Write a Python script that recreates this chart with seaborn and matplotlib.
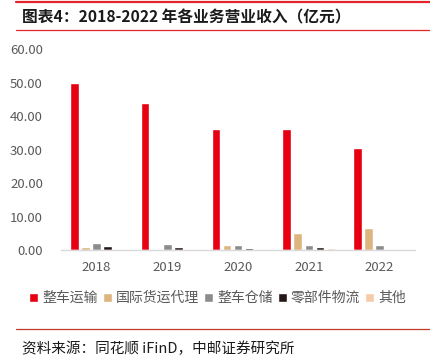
import matplotlib
matplotlib.use("Agg")
import matplotlib.pyplot as plt
import seaborn as sns
import pandas as pd
from matplotlib.lines import Line2D

years = ["2018", "2019", "2020", "2021", "2022"]
series_names = ["整车运输", "国际货运代理", "整车仓储", "零部件物流", "其他"]
vehicle = [49.8, 43.9, 36.2, 36.2, 30.4]
forwarding = [0.9, 0.4, 1.4, 5.1, 6.6]
warehousing = [2.0, 1.8, 1.6, 1.6, 1.6]
parts = [1.3, 0.9, 0.7, 1.0, 0.0]
other = [0.2, 0.0, 0.4, 0.5, 0.4]
yticks = [0, 10, 20, 30, 40, 50, 60]

colors = ["#E60012", "#DDB57E", "#8C8C8C", "#231815", "#F7CBAA"]

rows = []
for name, vals in zip(series_names, [vehicle, forwarding, warehousing, parts, other]):
    for y, v in zip(years, vals):
        rows.append({"year": y, "series": name, "value": v})
df = pd.DataFrame(rows)

sns.set_theme(style="white")
plt.rcParams["font.family"] = ["Noto Sans CJK SC", "DejaVu Sans"]

fig = plt.figure(figsize=(4.31, 3.64), dpi=100)
ax = fig.add_axes([0.1415, 0.313, 0.8215, 0.552])

sns.barplot(data=df, x="year", y="value", hue="series", order=years,
            hue_order=series_names, palette=colors, width=0.78, gap=0.22,
            ax=ax, saturation=1, legend=True)

ax.set_xlim(-0.5, 4.5)
ax.set_ylim(0, 60)
ax.set_yticks(yticks)
ax.set_yticklabels([f"{t:.2f}" for t in yticks])
ax.set_xlabel("")
ax.set_ylabel("")
for s in ["top", "right", "left"]:
    ax.spines[s].set_visible(False)
ax.spines["bottom"].set_color("#D9D9D9")
ax.spines["bottom"].set_linewidth(1.0)
ax.tick_params(axis="y", length=0, pad=13, labelsize=9.5, labelcolor="#595959")
ax.tick_params(axis="x", length=0, pad=8, labelsize=9.5, labelcolor="#595959")

handles, labels = ax.get_legend_handles_labels()
ax.get_legend().remove()
fig.legend(handles, labels, loc="center", bbox_to_anchor=(0.505, 0.181), ncol=5,
           frameon=False, fontsize=10, handlelength=0.65, handleheight=0.65,
           handletextpad=0.3, columnspacing=0.35, labelcolor="#595959")

# Title and decorations
fig.add_artist(Line2D([0.037, 1.0], [0.994, 0.994], color="#E3262B", linewidth=1.6,
                      transform=fig.transFigure))
fig.text(0.05, 0.953, "图表4：2018-2022 年各业务营业收入（亿元）", fontsize=11.3,
         fontweight="bold", color="#1a1a1a", va="center", ha="left")
fig.add_artist(Line2D([0.037, 1.0], [0.918, 0.918], color="#E3262B", linewidth=0.9,
                      transform=fig.transFigure))
fig.add_artist(Line2D([0.037, 1.0], [0.097, 0.097], color="#C0392B", linewidth=0.9,
                      transform=fig.transFigure))
fig.text(0.05, 0.041, "资料来源：同花顺 iFinD，中邮证券研究所", fontsize=10.5,
         color="#1a1a1a", va="center", ha="left")

fig.savefig("out.png", dpi=100)
